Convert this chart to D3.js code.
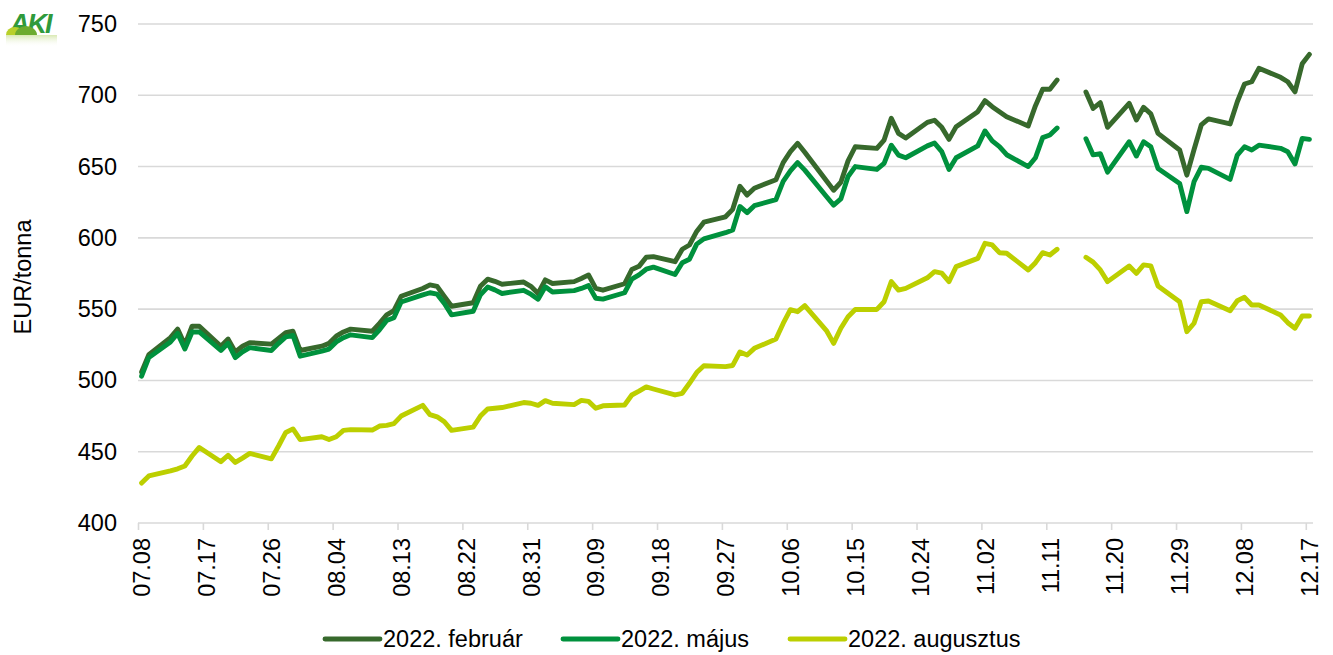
<!DOCTYPE html>
<html><head><meta charset="utf-8">
<script src="https://cdn.jsdelivr.net/npm/d3@7"></script>
<style>body{margin:0;background:#fff;} svg{display:block;font-family:"Liberation Sans", Arial, sans-serif;}</style>
</head><body><svg id="c" width="1333" height="655"></svg>
<script>
const dates = ["07.08","07.09","07.12","07.13","07.14","07.15","07.16","07.19","07.20","07.21","07.22","07.23","07.26","07.27","07.28","07.29","07.30",
"08.02","08.03","08.04","08.05","08.06","08.09","08.10","08.11","08.12","08.13","08.16","08.17","08.18","08.19","08.20","08.23","08.24","08.25","08.26","08.27","08.30","08.31",
"09.01","09.02","09.03","09.06","09.07","09.08","09.09","09.10","09.13","09.14","09.15","09.16","09.17","09.20","09.21","09.22","09.23","09.24","09.27","09.28","09.29","09.30",
"10.01","10.04","10.05","10.06","10.07","10.08","10.11","10.12","10.13","10.14","10.15","10.18","10.19","10.20","10.21","10.22","10.25","10.26","10.27","10.28","10.29",
"11.01","11.02","11.03","11.04","11.05","11.08","11.09","11.10","11.11","11.12","11.15","11.16","11.17","11.18","11.19","11.22","11.23","11.24","11.25","11.26","11.29","11.30",
"12.01","12.02","12.03","12.06","12.07","12.08","12.09","12.10","12.13","12.14","12.15","12.16","12.17"];

const feb = [506,518,530,536,525,538,538,524,529,520,524,526.5,525.5,529.5,533.5,534.5,521,
524,526,531,534,536,534.5,540,546,549,559,564.5,567,566,559,552,554.5,566,571,569.5,567.5,569,566,
561,570.5,568,569.3,571.5,574,564.5,563.3,567.8,577.8,580,586.4,586.8,583.3,592,595,604.5,611,614.8,620,636.2,630,
634.8,640.8,652.8,660.5,666.3,660,640,633.4,639,654,663.9,662.8,668.6,683.9,673.3,670,681,682.5,677.5,669.1,678,
688.5,696.2,692,688.5,685,678.5,692.7,704.2,704.2,710.7,null,702.3,690.8,694.8,677.5,694.4,682.7,691.6,687,673.3,661.6,644,
662,679.2,683.4,679.9,695.5,707.9,709.5,718.9,712.6,709.5,702.4,722.1,728.7];

const maj = [503,516,527,533,522,534,534,521,526,516,520,523,521,526,530.5,531.5,517,
520.5,522,527,530,532,530,535.5,542,544,555,560,561.5,560.5,554,546,548.5,560,565.5,563.5,561,563.2,560.5,
557,565.7,562,563,564.5,566.5,557.6,557,561.5,571,574,578,579.5,574.3,582.6,585,595.6,599.3,603.6,605.5,622,617.7,
622.6,626.8,639.6,647,652.8,647.5,629,623,627.3,643,650,648,652.3,665,658,656.2,664.5,666.5,660.5,648,656.2,
664.5,675,668,664,658.3,650,656.2,670.3,672.1,677,null,669.5,658.2,659,646.1,667.4,657.4,667.4,663.9,648.7,638.2,618.4,
639.4,649.5,648.7,641,658.1,663.9,661.6,665,662.8,660.4,651.8,669.8,669.1];

const aug = [428,433,436.5,438,440,447,453,443,447.5,442.5,445.5,448.8,445,454,463.5,466,458.5,
460.5,458.5,460.5,465,465.5,465.2,468,468.5,469.7,475,482.5,476,474.5,471,465,467.3,475,480,480.5,481,484.5,484,
482.5,485.8,484,483,486,485.3,480.5,482.2,482.8,489.8,492.5,495.5,494,489.8,491,498,505.5,510.3,509.7,510.5,520,517.8,
522.5,529,540,549.6,548.2,552.5,535,526,536.6,544.7,549.8,549.8,555.2,569.3,563.4,564.6,572,576.3,575.3,569.3,579.8,
585.6,596.2,595,589.6,589.2,577.5,582.6,589.6,588,592,null,586.4,583,577.5,569.3,580.3,575.1,581,580.3,566.2,555.2,534.2,
540.1,555.2,555.7,548.9,555.9,558.3,552.9,552.9,545.9,540.5,536.6,545.2,545.2];

const tickLabels = ["07.08","07.17","07.26","08.04","08.13","08.22","08.31","09.09","09.18","09.27","10.06","10.15","10.24","11.02","11.11","11.20","11.29","12.08","12.17"];
const yTicks = [400,450,500,550,600,650,700,750];
const seriesNames = ["2022. február","2022. május","2022. augusztus"];
const seriesColors = ["#37692c","#00913d","#bccf00"];
const yTitle = "EUR/tonna";

const FS = 23.5;
const parse = s => new Date(Date.UTC(2021, +s.slice(0,2)-1, +s.slice(3)));
const mid = s => d3.utcHour.offset(parse(s), 12);

const svg = d3.select("#c");
svg.append("rect").attr("width",1333).attr("height",655).attr("fill","#fff");

const x = d3.scaleUtc().domain([parse("07.08"), d3.utcDay.offset(parse("12.17"),1)]).range([138,1313]);
const y = d3.scaleLinear().domain([400,750]).range([523,24]);

// gridlines
svg.append("g").selectAll("line").data(yTicks).join("line")
  .attr("x1",138).attr("x2",1313).attr("y1",d=>y(d)).attr("y2",d=>y(d))
  .attr("stroke","#d9d9d9").attr("stroke-width",1.6);

// y axis labels
const ya = svg.append("g").attr("transform","translate(138,0)")
  .call(d3.axisLeft(y).tickValues(yTicks).tickSize(0).tickPadding(21));
ya.select(".domain").remove();
ya.selectAll("text").attr("font-size",FS).attr("fill","#000").attr("font-family","Liberation Sans, Arial, sans-serif");

// x axis tick marks
const xt = svg.append("g").attr("transform","translate(0,523)")
  .call(d3.axisBottom(x).tickValues(tickLabels.map(parse)).tickSize(7).tickFormat(""));
xt.select(".domain").remove();
xt.selectAll("line").attr("stroke","#d9d9d9").attr("stroke-width",1.6);

// x axis labels
const xl = svg.append("g").attr("transform","translate(0,523)")
  .call(d3.axisBottom(x).tickValues(tickLabels.map(mid)).tickSize(0).tickFormat((d,i)=>tickLabels[i]));
xl.select(".domain").remove();
xl.selectAll("text").attr("font-size",FS).attr("fill","#000").attr("font-family","Liberation Sans, Arial, sans-serif")
  .attr("transform","rotate(-90)").attr("text-anchor","end").attr("x",-15).attr("y",0).attr("dy","0.35em");

// y title
svg.append("text").attr("transform","translate(31,277) rotate(-90)").attr("text-anchor","middle")
  .attr("font-size",FS).attr("fill","#000").text(yTitle);

// lines
const series = [feb, maj, aug];
const line = d3.line().defined(d=>d.v!=null).x(d=>x(d.t)).y(d=>y(d.v));
series.forEach((vals,i)=>{
  const pts = dates.map((s,j)=>({t:mid(s), v:vals[j]}));
  svg.append("path").datum(pts).attr("d",line).attr("fill","none")
    .attr("stroke",seriesColors[i]).attr("stroke-width",4.9)
    .attr("stroke-linejoin","round").attr("stroke-linecap","round");
});

// legend
const legX = [325, 563, 790];
seriesNames.forEach((n,i)=>{
  svg.append("line").attr("x1",legX[i]).attr("x2",legX[i]+55).attr("y1",639).attr("y2",639)
    .attr("stroke",seriesColors[i]).attr("stroke-width",4.9).attr("stroke-linecap","round");
  svg.append("text").attr("x",legX[i]+58).attr("y",647).attr("font-size",FS).attr("fill","#000").text(n);
});

// logo
const logo = svg.append("g");
const grad = svg.append("defs").append("linearGradient").attr("id","lg").attr("x1",0).attr("y1",0).attr("x2",0).attr("y2",1);
grad.append("stop").attr("offset","0").attr("stop-color","#cfe3a0").attr("stop-opacity",0.8);
grad.append("stop").attr("offset","1").attr("stop-color","#ffffff").attr("stop-opacity",0);
logo.append("rect").attr("x",6).attr("y",35).attr("width",51).attr("height",12).attr("fill","url(#lg)");
logo.append("text").attr("x",10).attr("y",33).attr("font-size",27).attr("font-weight","bold")
  .attr("fill","#2f9a3c").attr("letter-spacing",-2).attr("font-style","italic").text("AKI");
logo.append("path").attr("d","M6,35 A9,8 0 0 1 24,35 Z").attr("fill","#b8d02a");
logo.append("path").attr("d","M15,35 A11,9 0 0 1 37,35 Z").attr("fill","#6dab2f");
</script></body></html>
